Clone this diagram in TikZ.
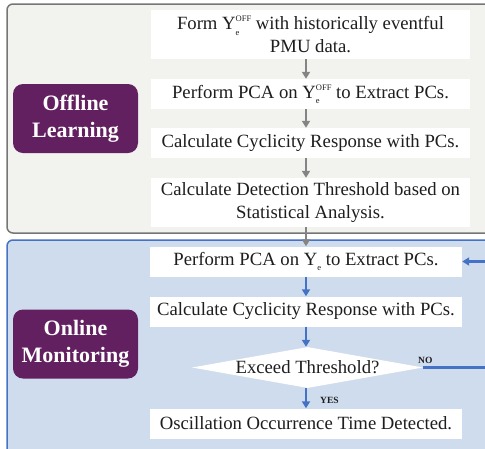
\documentclass[tikz,border=0pt]{standalone}
\usepackage{fontspec}
\setmainfont{Liberation Serif}
\usepackage{tikz}
\usetikzlibrary{arrows.meta,shapes.geometric}
\definecolor{panelGray}{RGB}{242,242,238}
\definecolor{edgeGray}{RGB}{118,118,118}
\definecolor{panelBlue}{RGB}{207,220,237}
\definecolor{edgeBlue}{RGB}{68,114,196}
\definecolor{tagPurple}{RGB}{98,32,96}
\definecolor{textDark}{RGB}{30,30,30}
\newcommand{\Yoff}{Y\rlap{\raisebox{-5.5pt}{\fontsize{8.5}{9}\selectfont e}}\raisebox{8pt}{\fontsize{8.5}{9}\selectfont OFF}}
\newcommand{\Ye}{Y\raisebox{-5.5pt}{\fontsize{8.5}{9}\selectfont e}}

\begin{document}
\begin{tikzpicture}[x=1pt,y=-1pt,
  offpanel/.style={draw=edgeGray,fill=panelGray,line width=1.5pt,rounded corners=6pt},
  onpanel/.style={draw=edgeBlue,fill=panelBlue,line width=1.5pt,rounded corners=6pt},
  tag/.style={fill=tagPurple,text=white,rounded corners=10pt,minimum width=125pt,minimum height=69pt,align=center,font=\fontsize{22}{27}\selectfont\bfseries},
  offstep/.style={fill=white,text=textDark,minimum width=319pt,minimum height=30pt,inner sep=0pt,align=center,font=\fontsize{18.7}{23}\selectfont},
  onstep/.style={offstep,minimum width=312pt},
  check/.style={diamond,fill=white,inner sep=0pt,minimum width=231pt,minimum height=41pt},
  flag/.style={text=textDark,inner sep=0pt,font=\fontsize{9.5}{11}\selectfont\bfseries},
  grayflow/.style={draw=edgeGray!90,line width=2pt,-{Triangle[width=8pt,length=7pt]}},
  blueflow/.style={draw=edgeBlue,line width=2.2pt,-{Triangle[width=8pt,length=7pt]}}]
\useasboundingbox (0,0) rectangle (485,448);
\clip (0,0) rectangle (485,448);
% panels
\draw[offpanel] (7,4) rectangle (500,233);
\draw[onpanel] (7,240) rectangle (500,462);
% phase tags
\node[tag] (offtag) at (75.5,118.5) {Offline\\Learning};
\node[tag] (ontag) at (75.5,344) {Online\\Monitoring};
% offline learning
\node[offstep,minimum height=49pt] (form) at (310.5,34.5) {Form \Yoff{} with historically eventful\\PMU data.};
\node[offstep] (pcaoff) at (310.5,94) {Perform PCA on \Yoff{} to Extract PCs.};
\node[offstep] (cycoff) at (310.5,143) {Calculate Cyclicity Response with PCs.};
\node[offstep,minimum height=49pt] (thresh) at (310.5,202.5) {Calculate Detection Threshold based on\\Statistical Analysis.};
% online monitoring
\node[onstep] (pcaon) at (306,261.5) {Perform PCA on \Ye{} to Extract PCs.};
\node[onstep] (cycon) at (306,311.5) {Calculate Cyclicity Response with PCs.};
\node[check,label={[text=textDark,font=\fontsize{18.7}{23}\selectfont]center:Exceed Threshold?}] (exceed) at (307.5,367.5) {};
\node[onstep] (detect) at (306,423.5) {Oscillation Occurrence Time Detected.};
% flow
\draw[grayflow] (form.south -| pcaon) -- (pcaoff.north -| pcaon);
\draw[grayflow] (pcaoff.south -| pcaon) -- (cycoff.north -| pcaon);
\draw[grayflow] (cycoff.south -| pcaon) -- (thresh.north -| pcaon);
\draw[grayflow] (thresh.south -| pcaon) -- (pcaon.north);
\draw[blueflow] (pcaon.south) -- (cycon.north);
\draw[blueflow] (cycon.south) -- (cycon.south |- exceed.north);
\draw[blueflow] (detect.north |- exceed.south) -- (detect.north);
\coordinate (loopback) at (493,367.5);
\draw[blueflow] (exceed.east) -- (exceed.east -| loopback) |- (pcaon.east);
\node[flag,anchor=south west] (no) at (418,364) {NO};
\node[flag,anchor=west] (yes) at (320,400) {YES};
\end{tikzpicture}
\end{document}
